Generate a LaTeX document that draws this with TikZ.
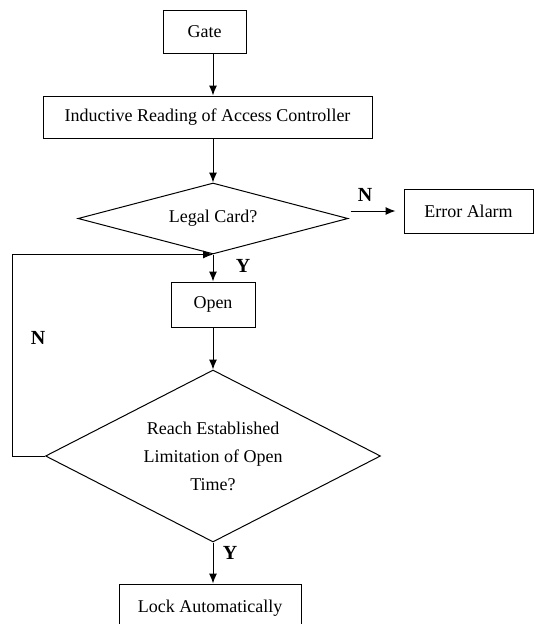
\documentclass[tikz,border=0pt]{standalone}
\usepackage{fontspec}
\setmainfont{Liberation Serif}
\usetikzlibrary{shapes.geometric,arrows.meta}

\tikzstyle{box}=[rectangle,draw=black,line width=1pt,inner sep=0pt,font=\fontsize{18}{28}\selectfont]
\tikzstyle{decision}=[diamond,draw=black,line width=1pt,inner sep=0pt,align=center,font=\fontsize{18}{28}\selectfont]
\tikzstyle{answer}=[inner sep=0pt,font=\fontsize{20}{22}\selectfont\bfseries]

\begin{document}
\begin{tikzpicture}[x=1pt, y=-1pt, line width=1pt, >={Latex[length=10pt,width=8pt]}]
	\useasboundingbox (0,0) rectangle (535,624);

	% Hauptkette
	\node(gate) at (204.5,31.5) [box, minimum width=83pt, minimum height=43pt] {Gate};
	\node(reading) at (207.5,117) [box, minimum width=329pt, minimum height=42pt] {Inductive Reading of Access Controller};
	\node(legal) at (213,218.5) [decision, aspect=3.8, minimum width=270pt, minimum height=71pt] {Legal Card?};
	\node(alarm) at (468.5,211) [box, minimum width=129pt, minimum height=44pt] {Error Alarm};
	\node(open) at (213,304.5) [box, minimum width=84pt, minimum height=45pt] {Open};
	\node(limit) at (213,456) [decision, aspect=1.95, minimum width=335pt, minimum height=172pt] {Reach Established\\Limitation of Open\\Time?};
	\node(lock) at (210,608) [box, minimum width=182pt, minimum height=48pt] {Lock Automatically};
	\coordinate(loopcorner) at (12,456);

	% Beschriftungen
	\node(alarmN) at (365,195) [answer] {N};
	\node(legalY) at (243,266) [answer] {Y};
	\node(loopN) at (38,338) [answer] {N};
	\node(lockY) at (230,553) [answer] {Y};

	\draw[->] (gate.south -| legal.north) -- (reading.north -| legal.north);
	\draw[->] (reading.south -| legal.north) -- (legal.north);
	\draw[->, shorten <=2pt, shorten >=8pt] (legal.east |- alarm.west) -- (alarm.west);
	\draw[->] (legal.south) -- (open.north);
	\draw[->] (open.south) -- (limit.north);
	\draw[->] (limit.south) -- (limit.south |- lock.north);
	\draw[->] (limit.west) -- (loopcorner) |- (legal.south);

\end{tikzpicture}
\end{document}
